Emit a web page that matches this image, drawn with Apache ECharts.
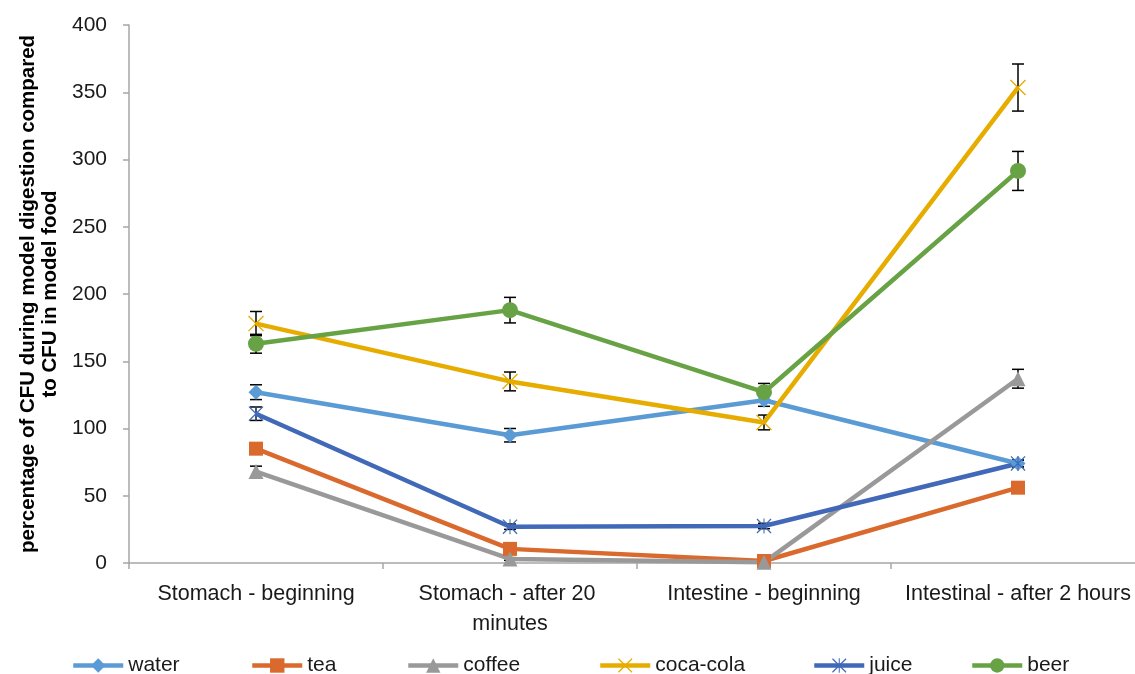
<!DOCTYPE html>
<html>
<head>
<meta charset="utf-8">
<script src="https://cdn.jsdelivr.net/npm/echarts@6/dist/echarts.min.js"></script>
<style>html,body{margin:0;padding:0;background:#fff;overflow:hidden;width:1135px;height:674px}#c{width:1145px;height:674px}</style>
</head>
<body>
<div id="c"></div>
<script>
const categories = ['Stomach - beginning', 'Stomach - after 20 minutes', 'Intestine - beginning', 'Intestinal - after 2 hours'];
const yTicks = [0, 50, 100, 150, 200, 250, 300, 350, 400];
const yAxisName = 'percentage of CFU during model digestion compared\nto CFU in model food';

const water = [127, 95, 121, 74];
const tea = [85, 10.5, 1.5, 56];
const coffee = [68, 3, 0.5, 137];
const cocaCola = [178, 135, 104.5, 353.5];
const juice = [111, 27, 27.5, 74];
const beer = [163, 188, 127, 291.5];

const waterErr = [5.5, 5, 4.5, 2.5];
const teaErr = [2, 1.5, 1, 2];
const coffeeErr = [4, 1, 0.5, 7];
const cocaColaErr = [9, 7, 5.5, 17.5];
const juiceErr = [5, 2, 2, 2.5];
const beerErr = [7, 9.5, 6.5, 14.5];

const FONT = "'Liberation Sans', Arial, sans-serif";
const xPath = 'path://M0,1.2 L1.2,0 L20,18.8 L18.8,20 Z M18.8,0 L20,1.2 L1.2,20 L0,18.8 Z';
const starPath = 'path://M0,1.2 L1.2,0 L20,18.8 L18.8,20 Z M18.8,0 L20,1.2 L1.2,20 L0,18.8 Z M9.3,0 L10.7,0 L10.7,20 L9.3,20 Z';

const defs = [
  {name: 'water', data: water, err: waterErr, color: '#5b9bd5', symbol: 'diamond', size: 15},
  {name: 'tea', data: tea, err: teaErr, color: '#d9692c', symbol: 'rect', size: 14},
  {name: 'coffee', data: coffee, err: coffeeErr, color: '#999999', symbol: 'triangle', size: 15},
  {name: 'coca-cola', data: cocaCola, err: cocaColaErr, color: '#e6ac00', symbol: xPath, size: 16},
  {name: 'juice', data: juice, err: juiceErr, color: '#4169b8', symbol: starPath, size: 15},
  {name: 'beer', data: beer, err: beerErr, color: '#67a244', symbol: 'circle', size: 16}
];
const legendLeft = [66, 245, 401, 593, 807, 965];

const series = [];
defs.forEach(d => {
  series.push({
    type: 'custom',
    name: d.name + '-err',
    z: 1,
    silent: true,
    data: d.data.map((v, i) => [i, v, d.err[i]]),
    renderItem: function (params, api) {
      const x = api.value(0), v = api.value(1), e = api.value(2);
      const top = api.coord([x, v + e]);
      const bot = api.coord([x, v - e]);
      const w = 6;
      const st = {stroke: '#000', lineWidth: 1.5};
      return {type: 'group', children: [
        {type: 'line', shape: {x1: top[0], y1: top[1], x2: bot[0], y2: bot[1]}, style: st},
        {type: 'line', shape: {x1: top[0] - w, y1: top[1], x2: top[0] + w, y2: top[1]}, style: st},
        {type: 'line', shape: {x1: bot[0] - w, y1: bot[1], x2: bot[0] + w, y2: bot[1]}, style: st}
      ]};
    }
  });
});
defs.forEach(d => {
  series.push({
    type: 'line',
    name: d.name,
    z: 3,
    data: d.data,
    symbol: d.symbol,
    symbolSize: d.size,
    showAllSymbol: true,
    lineStyle: {color: d.color, width: 4.5},
    itemStyle: {color: d.color},
    emphasis: {disabled: true}
  });
});

const chart = echarts.init(document.getElementById('c'), null, {renderer: 'canvas'});
chart.setOption({
  animation: false,
  backgroundColor: '#fff',
  textStyle: {fontFamily: FONT},
  grid: {left: 129, right: 0, top: 25, bottom: 111, containLabel: false},
  legend: defs.map((d, i) => ({
    data: [d.name],
    left: legendLeft[i],
    top: 650,
    itemWidth: 50,
    itemHeight: 18,
    itemGap: 6,
    lineStyle: {width: 4.5},
    textStyle: {fontSize: 21, color: '#1a1a1a', fontFamily: FONT},
    selectedMode: false
  })),
  xAxis: {
    type: 'category',
    data: categories,
    boundaryGap: true,
    axisLine: {lineStyle: {color: '#a6a6a6', width: 1.5}},
    axisTick: {show: true, length: 6, lineStyle: {color: '#a6a6a6', width: 1.5}},
    axisLabel: {fontSize: 21.5, color: '#1a1a1a', margin: 16, lineHeight: 30, width: 245, overflow: 'break', fontFamily: FONT, interval: 0},
    splitLine: {show: false}
  },
  yAxis: {
    type: 'value',
    min: yTicks[0],
    max: yTicks[yTicks.length - 1],
    interval: 50,
    name: yAxisName,
    nameLocation: 'middle',
    nameGap: 63,
    nameTextStyle: {fontSize: 20.5, fontWeight: 'bold', color: '#000', lineHeight: 22, fontFamily: FONT},
    axisLine: {show: true, lineStyle: {color: '#a6a6a6', width: 1.5}},
    axisTick: {show: true, length: 6, lineStyle: {color: '#a6a6a6', width: 1.5}},
    axisLabel: {fontSize: 21, color: '#1a1a1a', margin: 22, fontFamily: FONT},
    splitLine: {show: false}
  },
  series: series
});
</script>
</body>
</html>
